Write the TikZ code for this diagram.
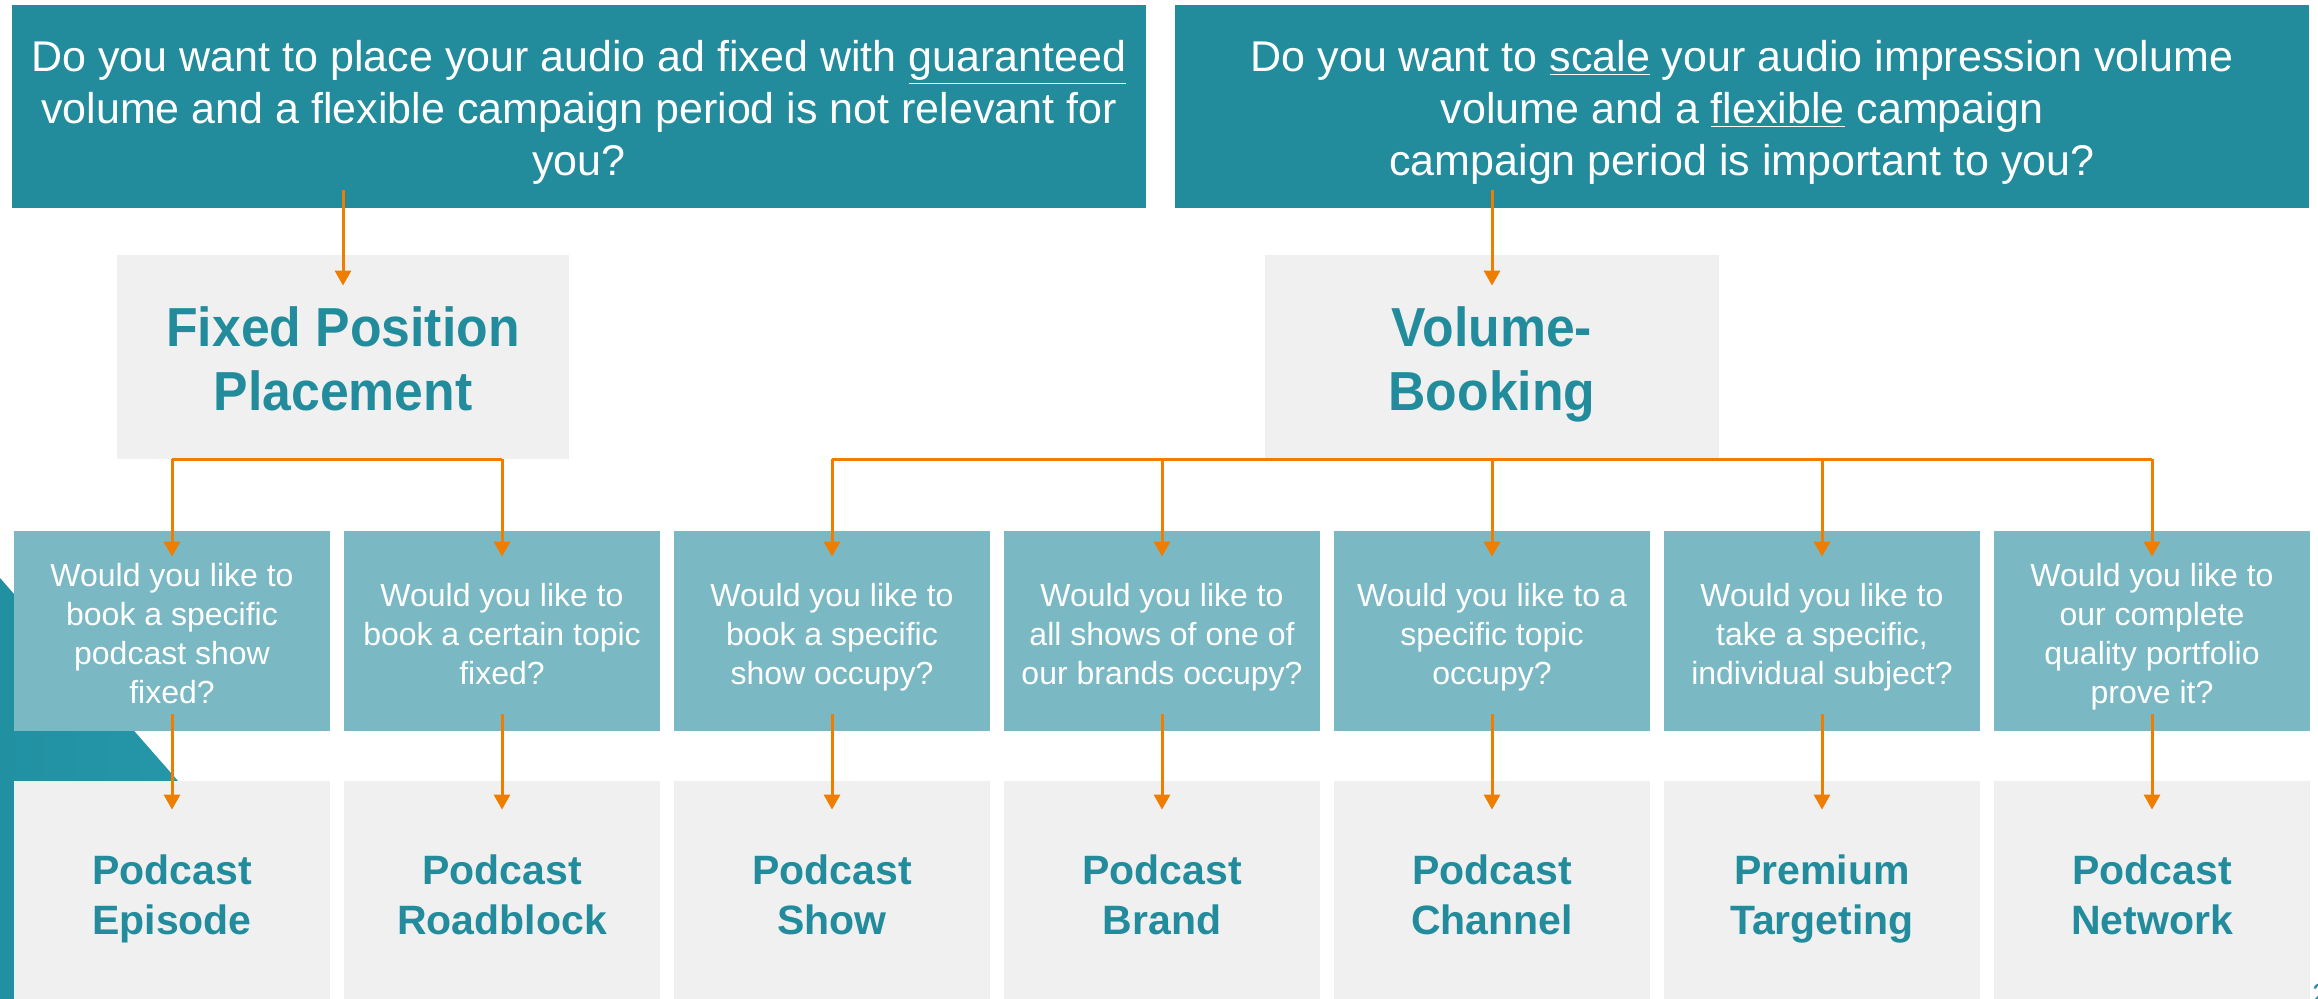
\documentclass[tikz,border=0pt]{standalone}
\usepackage{fontspec}
\setmainfont{Liberation Sans}
\newfontfamily\condfont[FakeStretch=0.94]{Liberation Sans Bold}
\usetikzlibrary{arrows.meta,calc}
\definecolor{tealdark}{HTML}{228C9D}
\definecolor{tealq}{HTML}{7AB9C4}
\definecolor{lgray}{HTML}{F0F0F0}
\definecolor{orng}{HTML}{EF7D00}
\definecolor{decoA}{HTML}{2191A2}
\definecolor{decoB}{HTML}{2699AB}
\newcommand{\tl}[1]{\rule{0pt}{#1}}
\newcommand{\bl}{\vphantom{gp}}
\tikzset{
  topbox/.style={fill=tealdark, text=white, inner sep=0pt, align=center,
    minimum width=567pt, minimum height=101.5pt,
    font=\fontsize{21.5}{26}\selectfont},
  midbox/.style={fill=lgray, text=tealdark, inner sep=0pt, align=center,
    minimum height=102pt, font=\condfont\fontsize{27.5}{32}\selectfont},
  qbox/.style={fill=tealq, text=white, inner sep=0pt, align=center,
    minimum width=158pt, minimum height=100pt,
    font=\fontsize{16}{19.5}\selectfont},
  resbox/.style={fill=lgray, text=tealdark, inner sep=0pt, align=center,
    minimum width=158pt, minimum height=114pt,
    font=\bfseries\fontsize{20.5}{25}\selectfont},
  conn/.style={draw=orng, line width=1.5pt},
  arr/.style={conn, -{Triangle[width=8pt,length=7.5pt]}}
}
\begin{document}
\begin{tikzpicture}[x=0.5pt,y=-0.5pt]
\useasboundingbox (0,0) rectangle (2318,999);
% decoration
\shade[left color=decoA, right color=decoB] (0,578) -- (250,863) -- (250,999) -- (0,999) -- cycle;
% top boxes
\node[topbox] (tl) at (579,106.5) {\tl{21.5pt}Do you want to place your audio ad fixed with \underline{guaranteed}\\volume and a flexible campaign period is not relevant for\\you?\bl};
\node[topbox] (tr) at (1742,106.5) {\tl{21.5pt}Do you want to \underline{scale} your audio impression volume\\volume and a \underline{flexible} campaign\\campaign period is important to you?\bl};
% middle boxes
\node[midbox, minimum width=226pt] (fp) at (343,357) {\tl{27pt}Fixed Position\\Placement\bl};
\node[midbox, minimum width=227pt] (vb) at (1492,357) {\tl{27pt}Volume-\\Booking\bl};
% question boxes
\node[qbox] (q1) at (172,631) {\tl{17pt}Would you like to\\book a specific\\podcast show\\fixed?\bl};
\node[qbox] (q2) at (502,631) {\tl{17.5pt}Would you like to\\book a certain topic\\fixed?\bl};
\node[qbox] (q3) at (832,631) {\tl{17.5pt}Would you like to\\book a specific\\show occupy?\bl};
\node[qbox] (q4) at (1162,631) {\tl{17.5pt}Would you like to\\all shows of one of\\our brands occupy?\bl};
\node[qbox] (q5) at (1492,631) {\tl{17.5pt}Would you like to a\\specific topic\\occupy?\bl};
\node[qbox] (q6) at (1822,631) {\tl{17.5pt}Would you like to\\take a specific,\\individual subject?\bl};
\node[qbox] (q7) at (2152,631) {\tl{17pt}Would you like to\\our complete\\quality portfolio\\prove it?\bl};
% result boxes
\node[resbox] (b1) at (172,895) {\tl{19pt}Podcast\\Episode\bl};
\node[resbox] (b2) at (502,895) {\tl{19pt}Podcast\\Roadblock\bl};
\node[resbox] (b3) at (832,895) {\tl{19pt}Podcast\\Show\bl};
\node[resbox] (b4) at (1162,895) {\tl{19pt}Podcast\\Brand\bl};
\node[resbox] (b5) at (1492,895) {\tl{19pt}Podcast\\Channel\bl};
\node[resbox] (b6) at (1822,895) {\tl{19pt}Premium\\Targeting\bl};
\node[resbox] (b7) at (2152,895) {\tl{19pt}Podcast\\Network\bl};
% page number (cut off)
\node[anchor=north west, text=tealdark, inner sep=0pt, font=\fontsize{14}{16}\selectfont] (pg) at (2312,984) {2};
% top connectors
\draw[arr] ($(fp.north |- tl.south)+(0,-18)$) -- ($(fp.north)+(0,31)$);
\draw[arr] ($(vb.north |- tr.south)+(0,-18)$) -- ($(vb.north)+(0,31)$);
% bars
\draw[conn] (q1.north |- fp.south) -- (q2.north |- fp.south);
\draw[conn] (q3.north |- vb.south) -- (q7.north |- vb.south);
\foreach \q in {q1,q2} {
  \draw[arr] (\q.north |- fp.south) -- ($(\q.north)+(0,26)$);
}
\foreach \q in {q3,q4,q5,q6,q7} {
  \draw[arr] (\q.north |- vb.south) -- ($(\q.north)+(0,26)$);
}
\foreach \i in {1,...,7} {
  \draw[arr] ($(q\i.south)+(0,-17)$) -- ($(b\i.north)+(0,29)$);
}
\end{tikzpicture}
\end{document}
